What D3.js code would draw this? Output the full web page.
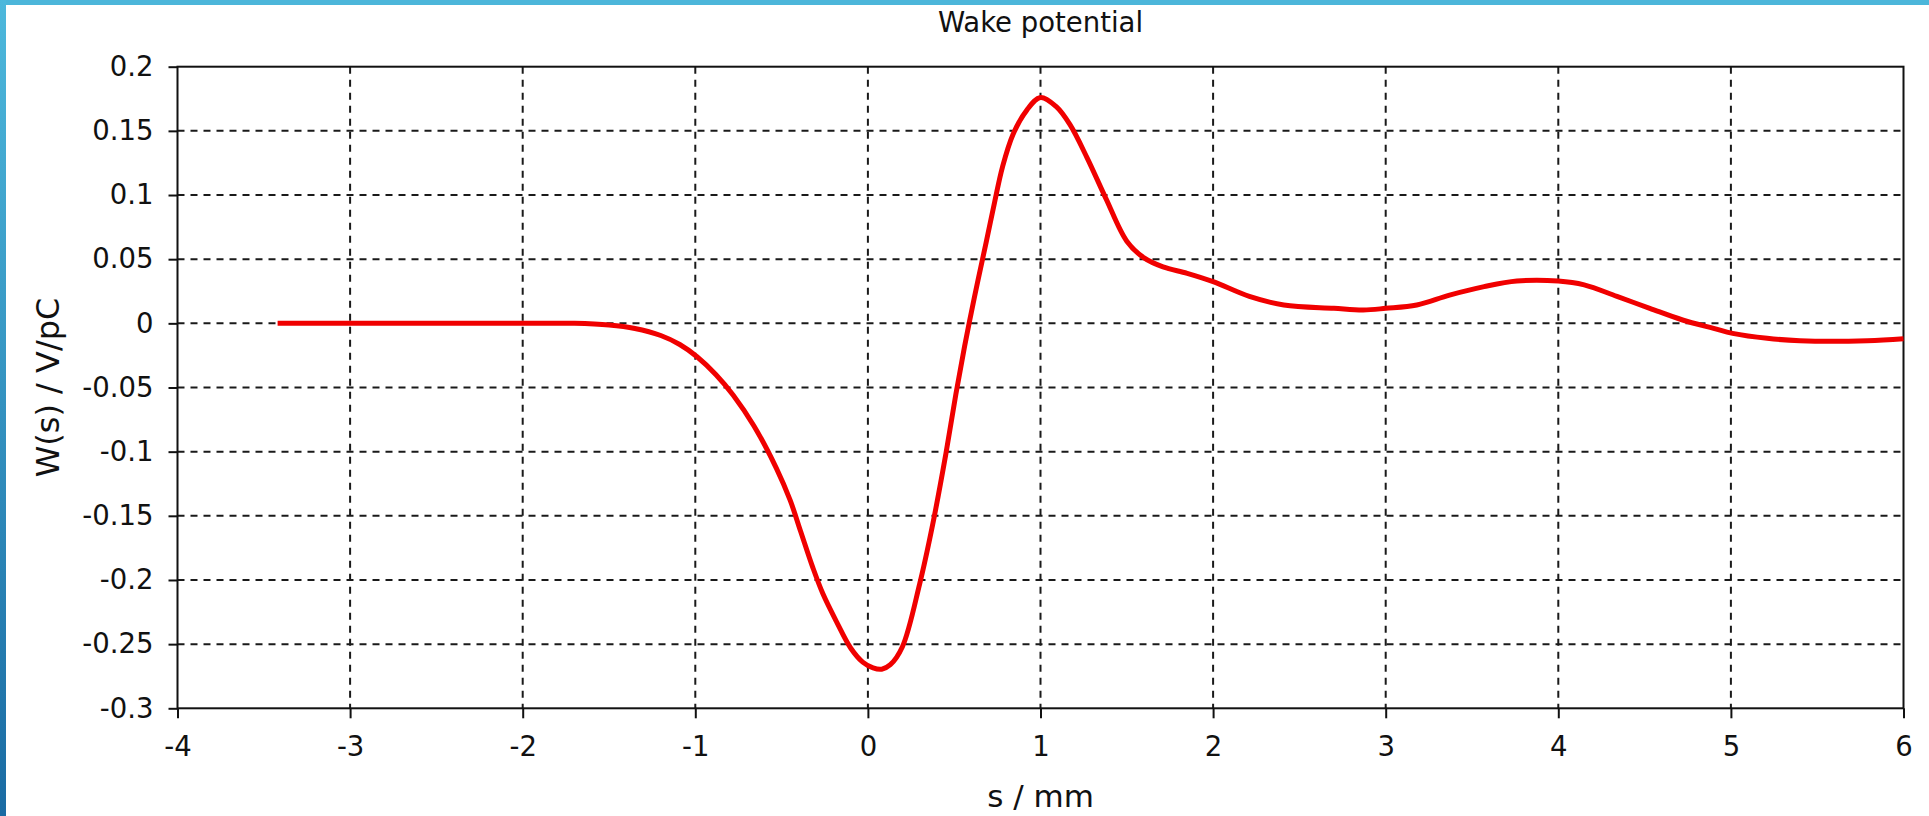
<!DOCTYPE html>
<html>
<head>
<meta charset="utf-8">
<script src="https://cdn.jsdelivr.net/npm/d3@7"></script>
<style>
  body { margin: 0; background: #fff; overflow: hidden; }
  text { font-family: "DejaVu Sans", Tahoma, sans-serif; fill: #111; }
</style>
</head>
<body>
<script>
// data: s in mm, W in V/pC
var sValues = [-3.42, -3.0, -2.5, -2.0, -1.7, -1.5, -1.35, -1.2, -1.09, -0.99, -0.88,
  -0.78, -0.66, -0.53, -0.45, -0.39, -0.32, -0.26, -0.18, -0.10, -0.03,
  0.03, 0.08, 0.13, 0.2, 0.30, 0.375, 0.45, 0.51, 0.56, 0.60, 0.64,
  0.685, 0.735, 0.78, 0.84, 0.92, 1.0, 1.09, 1.17, 1.27, 1.38,
  1.5, 1.6, 1.71, 1.85, 2.0, 2.21, 2.41, 2.7, 2.87, 3.0,
  3.18, 3.37, 3.57, 3.76, 4.0, 4.15, 4.34, 4.53, 4.72, 4.9,
  5.01, 5.21, 5.4, 5.79, 6.0];
var wValues = [0, 0, 0, 0, 0, -0.0013, -0.004, -0.0095, -0.0165, -0.026, -0.040,
  -0.056, -0.080, -0.113, -0.138, -0.162, -0.190, -0.211, -0.233, -0.253, -0.264,
  -0.2685, -0.2695, -0.266, -0.252, -0.203, -0.157, -0.103, -0.055, -0.018, 0.009, 0.035,
  0.063, 0.095, 0.122, 0.147, 0.166, 0.176, 0.169, 0.155, 0.129, 0.097,
  0.064, 0.051, 0.044, 0.039, 0.0325, 0.021, 0.0143, 0.0117, 0.0104, 0.0117,
  0.0143, 0.022, 0.0286, 0.033, 0.033, 0.030, 0.021, 0.0117, 0.0026, -0.0039,
  -0.0078, -0.0117, -0.0135, -0.0135, -0.012];
var xTicks = [-4, -3, -2, -1, 0, 1, 2, 3, 4, 5, 6];
var yTicks = [-0.3, -0.25, -0.2, -0.15, -0.1, -0.05, 0, 0.05, 0.1, 0.15, 0.2];

// useful variables
var W = 1929, H = 816;
var margin = {top: 66.7, right: 25.5, bottom: 107.7, left: 177.5};
var width = W - margin.left - margin.right;
var height = H - margin.top - margin.bottom;

var svg = d3.select("body").append("svg")
    .attr("width", W)
    .attr("height", H);

// frame of the screenshot (blue bars top and left)
var defs = svg.append("defs");
var gl = defs.append("linearGradient").attr("id", "leftbar")
    .attr("x1", 0).attr("y1", 0).attr("x2", 0).attr("y2", 1);
gl.append("stop").attr("offset", "0%").attr("stop-color", "#4db8dc");
gl.append("stop").attr("offset", "100%").attr("stop-color", "#1a6ba3");
svg.append("rect").attr("x", 0).attr("y", 0).attr("width", W).attr("height", 5).attr("fill", "#4cb6da");
svg.append("rect").attr("x", 0).attr("y", 0).attr("width", 6).attr("height", H).attr("fill", "url(#leftbar)");

// scales
var x = d3.scaleLinear().domain([-4, 6]).range([0, width]);
var y = d3.scaleLinear().domain([-0.3, 0.2]).range([height, 0]);

var g = svg.append("g")
    .attr("transform", "translate(" + margin.left + "," + margin.top + ")");

var fmt = function(d) { return String(+d.toFixed(2)); };

// grid
g.append("g")
    .selectAll("line")
    .data(xTicks.slice(1, -1))
    .enter().append("line")
    .attr("x1", function(d) { return x(d); })
    .attr("x2", function(d) { return x(d); })
    .attr("y1", 0).attr("y2", height)
    .attr("stroke", "#1a1a1a").attr("stroke-width", 2)
    .attr("stroke-dasharray", "7,6");
g.append("g")
    .selectAll("line")
    .data(yTicks.slice(1, -1))
    .enter().append("line")
    .attr("y1", function(d) { return y(d); })
    .attr("y2", function(d) { return y(d); })
    .attr("x1", 0).attr("x2", width)
    .attr("stroke", "#1a1a1a").attr("stroke-width", 2)
    .attr("stroke-dasharray", "7,6");

// axes
var xAxis = g.append("g")
    .attr("transform", "translate(0," + height + ")")
    .call(d3.axisBottom(x).tickValues(xTicks).tickFormat(fmt).tickSize(10).tickPadding(18).tickSizeOuter(0));
var yAxis = g.append("g")
    .call(d3.axisLeft(y).tickValues(yTicks).tickFormat(fmt).tickSize(9).tickPadding(15).tickSizeOuter(0));

[xAxis, yAxis].forEach(function(a) {
  a.select(".domain").remove();
  a.selectAll(".tick line").attr("stroke", "#111").attr("stroke-width", 2);
  a.selectAll(".tick text").attr("font-size", "27.5px").attr("font-family", "DejaVu Sans").attr("fill", "#111");
});

// box
g.append("rect")
    .attr("x", 0).attr("y", 0)
    .attr("width", width).attr("height", height)
    .attr("fill", "none")
    .attr("stroke", "#111").attr("stroke-width", 2);

// the curve
var pts = sValues.map(function(s, i) { return [s, wValues[i]]; });
var line = d3.line()
    .x(function(d) { return x(d[0]); })
    .y(function(d) { return y(d[1]); })
    .curve(d3.curveCatmullRom.alpha(0.5));
g.append("path")
    .datum(pts)
    .attr("d", line)
    .attr("fill", "none")
    .attr("stroke", "#f00000")
    .attr("stroke-width", 5)
    .attr("stroke-linejoin", "round");

// titles
svg.append("text")
    .attr("x", margin.left + width / 2)
    .attr("y", 32)
    .attr("text-anchor", "middle")
    .attr("font-size", "27.5px")
    .text("Wake potential");

svg.append("text")
    .attr("x", margin.left + width / 2)
    .attr("y", 807)
    .attr("text-anchor", "middle")
    .attr("font-size", "31px")
    .text("s / mm");

svg.append("text")
    .attr("transform", "translate(59," + (margin.top + height / 2) + ") rotate(-90)")
    .attr("text-anchor", "middle")
    .attr("font-size", "32px")
    .text("W(s) / V/pC");
</script>
</body>
</html>
